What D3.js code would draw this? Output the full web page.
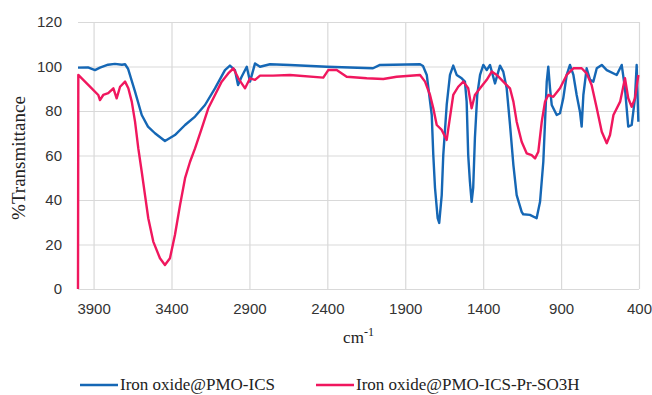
<!DOCTYPE html>
<html>
<head>
<meta charset="utf-8">
<script src="https://cdn.jsdelivr.net/npm/d3@7"></script>
<style>
  body { margin: 0; background: #fff; }
  svg { display: block; }
</style>
</head>
<body>
<div id="chart"></div>
<script>
// FTIR spectra: [wavenumber, %T]
const seriesNames = ["Iron oxide@PMO-ICS", "Iron oxide@PMO-ICS-Pr-SO3H"];

const pmoIcs = [
  [4000, 99.5], [3936, 99.6], [3891, 98.4], [3859, 99.5], [3807, 100.8], [3763, 101.2],
  [3718, 100.8], [3698, 101], [3679, 99], [3634, 88.7], [3591, 78.2], [3551, 73],
  [3506, 70], [3442, 66.5], [3378, 69.2], [3313, 73.7], [3249, 77.5], [3185, 82.7],
  [3121, 90.2], [3057, 98.4], [3025, 100.4], [2993, 98.4], [2973, 91.7], [2950, 95.4],
  [2917, 99.9], [2896, 93.2], [2864, 101.4], [2832, 99.9], [2768, 101], [2640, 100.7],
  [2404, 99.9], [2107, 99.2], [2062, 100.7], [1805, 101], [1786, 100.2], [1762, 96.2],
  [1730, 78.2], [1720, 60.2], [1709, 45.4], [1692, 31.9], [1682, 29.7], [1666, 42.2],
  [1656, 60.2], [1634, 82.7], [1613, 96.2], [1592, 100.4], [1570, 96.2], [1538, 94.7],
  [1517, 93.2], [1506, 84.2], [1496, 60.2], [1485, 48.2], [1474, 39.2], [1464, 45.4],
  [1453, 67.9], [1438, 87.2], [1420, 96.2], [1399, 100.7], [1377, 98.4], [1356, 100.7],
  [1324, 92.4], [1292, 100.4], [1271, 97.7], [1249, 90.2], [1228, 74], [1206, 55.7],
  [1185, 42.2], [1153, 34.7], [1143, 33.6], [1100, 33.3], [1057, 31.8], [1035, 39.2],
  [1014, 57.2], [1003, 75.2], [992, 93.2], [982, 99.9], [971, 90.2], [960, 82.7],
  [928, 78.2], [907, 79], [886, 85.7], [864, 96.2], [843, 100.7], [821, 96.2],
  [800, 87.2], [779, 79.7], [768, 73], [757, 87.2], [736, 99.2], [714, 94],
  [693, 93.2], [671, 99.2], [639, 100.7], [607, 98.4], [543, 96.2], [511, 100.7],
  [490, 90.2], [469, 73], [447, 73.7], [426, 85.7], [415, 100.7], [404, 75.2]
];

const pmoIcsSO3H = [
  [4000, 0], [3998, 96.2], [3955, 93.2], [3912, 90.2], [3870, 87.2], [3859, 84.9],
  [3838, 87.2], [3806, 88], [3773, 90.2], [3752, 85.7], [3730, 90.9], [3698, 93.2],
  [3677, 90.2], [3655, 84.2], [3634, 75.2], [3613, 63.2], [3591, 52.7], [3570, 42.2],
  [3549, 31.8], [3517, 21.3], [3474, 13.8], [3442, 10.8], [3410, 13.8], [3378, 24.3],
  [3345, 37.8], [3313, 49.8], [3281, 57.2], [3249, 63.2], [3206, 72.2], [3164, 81.2],
  [3121, 87.2], [3078, 93.2], [3036, 96.9], [3003, 99.2], [2971, 94.7], [2928, 90.2],
  [2896, 94.7], [2864, 94], [2832, 95.9], [2749, 95.9], [2640, 96.2], [2426, 95],
  [2394, 98.4], [2340, 98.4], [2276, 95.4], [2147, 94.7], [2041, 94.4], [1955, 95.4],
  [1805, 96.2], [1773, 93.2], [1741, 87.2], [1720, 81.2], [1698, 73.7], [1666, 71.5],
  [1634, 67], [1617, 75.2], [1592, 87.2], [1560, 90.9], [1527, 93.2], [1496, 90.2],
  [1474, 81.2], [1453, 87.2], [1420, 90.2], [1377, 94], [1345, 97.7], [1313, 96.2],
  [1271, 93.2], [1228, 90.2], [1206, 84.2], [1185, 75.2], [1153, 66.2], [1121, 61],
  [1089, 60.2], [1067, 58.7], [1046, 61.7], [1024, 75.2], [1003, 84.2], [982, 87.2],
  [950, 86.4], [907, 90.2], [864, 96.2], [821, 99.2], [768, 99.2], [736, 96.9],
  [704, 91.7], [671, 81.2], [639, 70.7], [607, 65.5], [586, 69.2], [564, 78.2],
  [521, 84.2], [490, 94.7], [469, 85.7], [447, 81.9], [426, 85.7], [404, 96.2]
];

const xTicks = [3900, 3400, 2900, 2400, 1900, 1400, 900, 400];
const yTicks = [0, 20, 40, 60, 80, 100, 120];
const colors = ["#1567b5", "#f0175e"];

const W = 652, H = 395;
const margin = { top: 22, right: 13, bottom: 106, left: 78 };
const width = W - margin.left - margin.right;
const height = H - margin.top - margin.bottom;

const svg = d3.select("#chart").append("svg")
  .attr("width", W)
  .attr("height", H);

const g = svg.append("g")
  .attr("transform", `translate(${margin.left},${margin.top})`);

const x = d3.scaleLinear().domain([4000, 400]).range([0, width]);
const y = d3.scaleLinear().domain([0, 120]).range([height, 0]);

// horizontal gridlines + labels
const yAxis = g.append("g")
  .call(d3.axisLeft(y).tickValues(yTicks).tickSize(-width).tickPadding(16).tickFormat(d3.format("d")));
yAxis.select(".domain").remove();
yAxis.selectAll("line").attr("stroke", "#d9d9d9").attr("stroke-width", 1.2);
yAxis.selectAll("text")
  .style("font-family", "Liberation Sans, Arial, sans-serif")
  .style("font-size", "15px")
  .attr("fill", "#333");

// vertical gridlines + labels
const xAxis = g.append("g")
  .attr("transform", `translate(0,${height})`)
  .call(d3.axisBottom(x).tickValues(xTicks).tickSize(-height).tickPadding(14).tickFormat(d3.format("d")));
xAxis.select(".domain").remove();
xAxis.selectAll("line").attr("stroke", "#d9d9d9").attr("stroke-width", 1.2);
xAxis.selectAll("text")
  .style("font-family", "Liberation Sans, Arial, sans-serif")
  .style("font-size", "15px")
  .attr("fill", "#333");

// spectra
const line = d3.line()
  .x(d => x(d[0]))
  .y(d => y(d[1]));

[pmoIcs, pmoIcsSO3H].forEach((s, i) => {
  g.append("path")
    .datum(s)
    .attr("d", line)
    .attr("fill", "none")
    .attr("stroke", colors[i])
    .attr("stroke-width", 2.4)
    .attr("stroke-linejoin", "round");
});

// axis titles
svg.append("text")
  .attr("transform", "translate(25,158) rotate(-90)")
  .attr("text-anchor", "middle")
  .style("font-family", "Liberation Serif, Times New Roman, serif")
  .style("font-size", "19px")
  .attr("fill", "#222")
  .text("%Transmittance");

const cm = svg.append("text")
  .attr("x", margin.left + width / 2)
  .attr("y", 343)
  .attr("text-anchor", "middle")
  .style("font-family", "Liberation Serif, Times New Roman, serif")
  .style("font-size", "17px")
  .attr("fill", "#222");
cm.append("tspan").text("cm");
cm.append("tspan").attr("dy", -7).style("font-size", "12px").text("-1");

// legend
const legendX = [80, 316];
seriesNames.forEach((name, i) => {
  const lg = svg.append("g").attr("transform", `translate(${legendX[i]},385)`);
  lg.append("line")
    .attr("x1", 0).attr("x2", 38)
    .attr("stroke", colors[i])
    .attr("stroke-width", 2.6);
  lg.append("text")
    .attr("x", 40)
    .attr("y", 5)
    .style("font-family", "Liberation Serif, Times New Roman, serif")
    .style("font-size", "17px")
    .attr("fill", "#222")
    .text(name);
});
</script>
</body>
</html>
